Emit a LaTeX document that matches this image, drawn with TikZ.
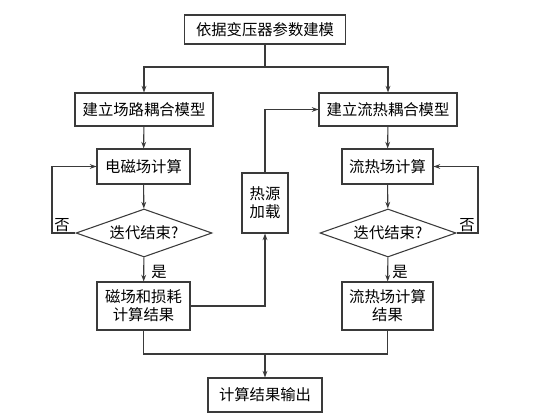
\documentclass[tikz,border=0pt]{standalone}
\usepackage{fontspec}
\newfontfamily\cjk{Noto Sans CJK SC}
\usetikzlibrary{shapes.geometric,arrows.meta}
\definecolor{lineFlow}{HTML}{3A3A3A}

\begin{document}
\begin{tikzpicture}[
  x=0.75pt,y=-0.75pt,
  box/.style={rectangle,draw=lineFlow,line width=0.8pt,inner sep=1pt,align=center,
    font=\cjk\fontsize{11.5}{13.5}\selectfont},
  decide/.style={diamond,draw=lineFlow,line width=0.8pt,inner sep=0pt,aspect=3,
    font=\cjk\fontsize{11.5}{13.5}\selectfont},
  lbl/.style={font=\cjk\fontsize{11.5}{13.5}\selectfont,inner sep=1pt},
  flow/.style={draw=lineFlow,line width=0.8pt},
  arr/.style={flow,-{Stealth[length=5pt,width=3.6pt]}}
]
  \useasboundingbox (0,0) rectangle (549,417);

  % --- top and output boxes ---
  \node[box,minimum width=120.75pt,minimum height=21.75pt] (top) at (265,29.5) {依据变压器参数建模};
  \node[box,minimum width=85.5pt,minimum height=25.5pt]    (out) at (265,395) {计算结果输出};

  % --- left branch: electromagnetic field ---
  \node[box,minimum width=103.5pt,minimum height=24.75pt] (lmodel) at (144,109.5) {建立场路耦合模型};
  \node[box,minimum width=69.75pt,minimum height=26.25pt] (lcalc)  at (143.5,166.5) {电磁场计算};
  \node[decide,minimum width=102pt,minimum height=36pt]   (ldia)   at (144,233) {迭代结束?};
  \node[box,minimum width=69.75pt,minimum height=36pt]    (lres)   at (143.5,306) {磁场和损耗\\计算结果};

  % --- right branch: fluid-thermal field ---
  \node[box,minimum width=103.5pt,minimum height=24.75pt] (rmodel) at (388,109.5) {建立流热耦合模型};
  \node[box,minimum width=68.25pt,minimum height=26.25pt] (rcalc)  at (387.5,166.5) {流热场计算};
  \node[decide,minimum width=102pt,minimum height=36pt]   (rdia)   at (388,233) {迭代结束?};
  \node[box,minimum width=68.25pt,minimum height=36pt]    (rres)   at (387.5,306) {流热场计算\\结果};

  % --- coupling box in the middle ---
  \node[box,minimum width=34.5pt,minimum height=45pt] (heat) at (265,203) {热源\\加载};

  % --- helper points ---
  \coordinate (split) at (265,67);
  \coordinate (merge) at (265,354);
  \coordinate (lloop) at (52,233);
  \coordinate (rloop) at (478,233);

  % --- connectors ---
  \draw[flow] (top) -- (split);
  \draw[arr] (split) -| (lmodel);
  \draw[arr] (split) -| (rmodel);

  \draw[arr] (lmodel) -- (lcalc);
  \draw[arr] (lcalc) -- (ldia);
  \draw[arr] (ldia) -- (lres);
  \draw[arr] (ldia.west) -- (lloop) |- (lcalc.west);

  \draw[arr] (rmodel) -- (rcalc);
  \draw[arr] (rcalc) -- (rdia);
  \draw[arr] (rdia) -- (rres);
  \draw[arr] (rdia.east) -- (rloop) |- (rcalc.east);

  \draw[arr] (lres.east) -| (heat.south);
  \draw[arr] (heat.north) |- (rmodel.west);

  \draw[flow] (lres.south) |- (merge) -| (rres.south);
  \draw[arr] (merge) -- (out);

  % --- yes / no labels ---
  \node[lbl] (lno)  at (62,225)  {否};
  \node[lbl] (rno)  at (467,225) {否};
  \node[lbl] (lyes) at (159,272) {是};
  \node[lbl] (ryes) at (400,272) {是};
\end{tikzpicture}
\end{document}
